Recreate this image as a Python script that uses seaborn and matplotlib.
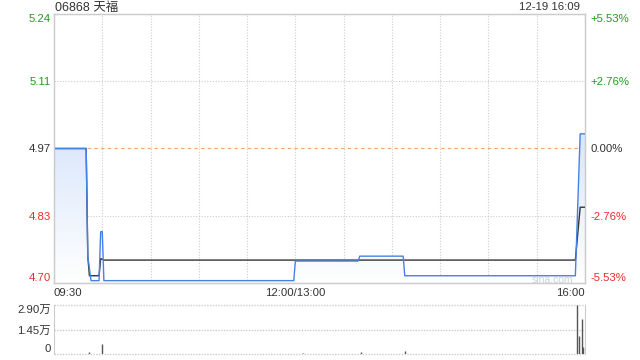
#! /usr/bin/env python
"""
Intraday time-share chart for 06868 天福 (12-19): price, average price and volume
"""

import numpy as np
import seaborn as sns
import matplotlib.pyplot as plt
from matplotlib.colors import LinearSegmentedColormap

PREV_CLOSE = 4.97

# minutes since 09:30 with the lunch break removed (0..330), prices in HKD
price_minutes = [0, 20, 21, 23, 28, 29, 30, 31, 149, 150, 189, 190, 217, 218, 324, 327, 330]
price_values = [4.97, 4.97, 4.75, 4.70, 4.70, 4.80, 4.80, 4.70, 4.70, 4.74,
                4.74, 4.75, 4.75, 4.71, 4.71, 5.00, 5.00]

avg_minutes = [0, 20, 21, 22, 28, 29, 31, 324, 327, 330]
avg_values = [4.97, 4.97, 4.75, 4.71, 4.71, 4.745, 4.742, 4.742, 4.85, 4.85]

volume_minutes = [22, 30, 155, 191, 218, 325, 326, 328, 329]
volume_values = [1000, 5800, 600, 1200, 1800, 29000, 10600, 20700, 4000]

pct_ticks = [5.53, 2.76, 0.0, -2.76, -5.53]
price_labels = ["5.24", "5.11", "4.97", "4.83", "4.70"]
pct_labels = ["+5.53%", "+2.76%", "0.00%", "-2.76%", "-5.53%"]
time_ticks = [0, 150, 330]
time_labels = ["09:30", "12:00/13:00", "16:00"]
vol_ticks = [29000, 14500, 0]
vol_labels = ["2.90万", "1.45万", "0"]

GREEN = "#1f9e1f"
RED = "#ee2b2b"
DARK = "#333333"
BORDER = "#cccccc"
BLUE = "#4582e6"
FS = 8.2


def style_ticks(labels, colors):
    for lab, c in zip(labels, colors):
        lab.set_color(c)
    labels[0].set_verticalalignment("top")
    labels[-1].set_verticalalignment("bottom")


def run() -> None:
    sns.set_style("white")
    plt.rcParams["font.family"] = ["Liberation Sans", "Noto Sans CJK SC", "DejaVu Sans"]

    fig = plt.figure(figsize=(6.4, 3.6), dpi=100)
    ax = fig.add_axes([54 / 640, 1 - 283 / 360, 531 / 640, 269 / 360])
    axv = fig.add_axes([54 / 640, 1 - 354 / 360, 531 / 640, 49 / 360])

    y_lo = PREV_CLOSE * (1 - 0.0553)
    y_hi = PREV_CLOSE * (1 + 0.0553)
    ticks = [PREV_CLOSE * (1 + p / 100) for p in pct_ticks]

    # gradient fill under the price line
    poly = ax.fill_between(price_minutes, price_values, y_lo, facecolor="none", edgecolor="none")
    cmap = LinearSegmentedColormap.from_list("fill", ["#ffffff", "#d9e6fb"])
    grad = np.linspace(0, 1, 256).reshape(-1, 1)
    im = ax.imshow(grad, extent=[0, 330, y_lo, max(price_values)], origin="lower",
                   aspect="auto", cmap=cmap, zorder=1)
    im.set_clip_path(poly.get_paths()[0], transform=ax.transData)

    # grid
    for t in range(30, 330, 30):
        ax.axvline(t, color=BORDER, lw=0.8, ls=(0, (1, 1.5)), zorder=0)
    for y in [ticks[1], ticks[3]]:
        ax.axhline(y, color=BORDER, lw=0.8, ls=(0, (1, 1.5)), zorder=0)
    ax.axhline(PREV_CLOSE, color="#f2a36e", lw=0.8, ls=(0, (3, 3)), zorder=0)

    sns.lineplot(x=avg_minutes, y=avg_values, ax=ax, color=DARK, linewidth=1,
                 estimator=None, sort=False, zorder=3)
    sns.lineplot(x=price_minutes, y=price_values, ax=ax, color=BLUE, linewidth=1,
                 estimator=None, sort=False, zorder=4)

    ax.set_xlim(0, 330)
    ax.set_ylim(y_lo, y_hi)
    ax.set_xticks(time_ticks, time_labels)
    ax.set_yticks(ticks, price_labels)
    ax.tick_params(axis="both", length=0, labelsize=FS)
    ax.tick_params(axis="y", pad=2.5)
    ax.tick_params(axis="x", pad=3.5, colors=DARK)
    xl = ax.get_xticklabels()
    xl[0].set_horizontalalignment("left")
    xl[-1].set_horizontalalignment("right")
    style_ticks(ax.get_yticklabels(), [GREEN, GREEN, DARK, RED, RED])
    for s in ax.spines.values():
        s.set_color(BORDER)
        s.set_linewidth(1)

    ax2 = ax.twinx()
    ax2.set_ylim(y_lo, y_hi)
    ax2.set_yticks(ticks, pct_labels)
    ax2.tick_params(axis="y", length=0, labelsize=FS, pad=4)
    style_ticks(ax2.get_yticklabels(), [GREEN, GREEN, DARK, RED, RED])
    for s in ax2.spines.values():
        s.set_color(BORDER)

    ax.text(0.977, 0.012, "sina.com", transform=ax.transAxes, ha="right", va="center",
            fontsize=7.5, color="#d0d0d0", zorder=2)

    # volume panel
    axv.vlines(volume_minutes, 0, volume_values, color="#555555", linewidth=1)
    for y in vol_ticks:
        axv.axhline(y, color=BORDER, lw=1, ls=(0, (1, 1)), zorder=0, clip_on=False)
    axv.set_xlim(0, 330)
    axv.set_ylim(0, 29000)
    axv.set_xticks([])
    axv.set_yticks(vol_ticks, vol_labels)
    axv.tick_params(axis="y", length=0, labelsize=FS, pad=2.5, colors=DARK)
    style_ticks(axv.get_yticklabels(), [DARK, DARK, DARK])
    axv.spines["top"].set_visible(False)
    axv.spines["bottom"].set_visible(False)
    for side in ["left", "right"]:
        axv.spines[side].set_color(BORDER)

    fig.text(55 / 640, 1 - 8 / 360, "06868 天福", ha="left", va="center",
             fontsize=9, color=DARK)
    fig.text(580 / 640, 1 - 7.5 / 360, "12-19 16:09", ha="right", va="center",
             fontsize=FS, color=DARK)

    fig.savefig("out.png", dpi=100)


if __name__ == "__main__":
    run()
